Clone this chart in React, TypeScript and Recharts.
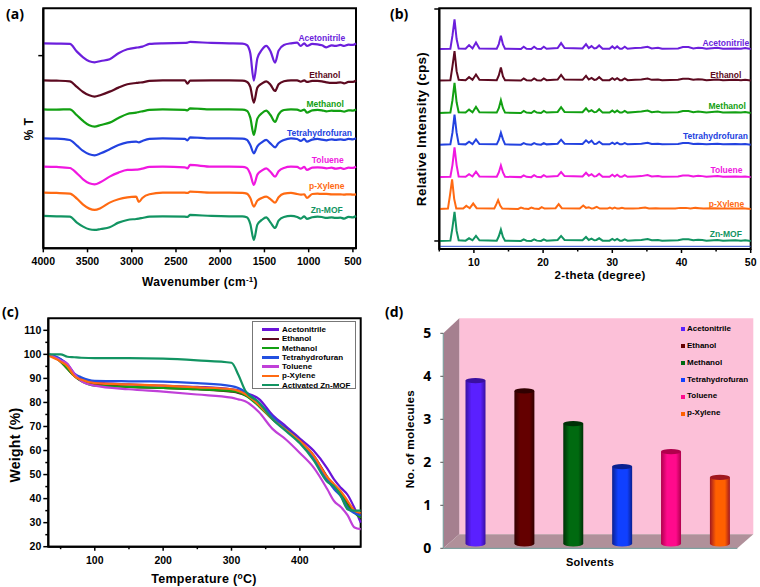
import * as React from "react";
import {
  Bar,
  BarChart,
  Legend,
  Line,
  LineChart,
  ReferenceArea,
  ReferenceDot,
  ReferenceLine,
  XAxis,
  YAxis,
} from "recharts";

const FONT = "'Liberation Sans', Arial, sans-serif";
const HEAD_FONT = "'Open Sans', sans-serif";

const solvents = ["Acetonitrile", "Ethanol", "Methanol", "Tetrahydrofuran", "Toluene", "p-Xylene", "Zn-MOF"];
const spectraColors = ["#6c1fdc", "#5c0a20", "#12a012", "#2342e0", "#f018e0", "#ff6a12", "#129462"];

// (a) FTIR, dips measured down from each trace's own baseline
const wavenumbers = [4000, 3850, 3700, 3620, 3550, 3480, 3420, 3350, 3250, 3150, 3050, 2950, 2920, 2880, 2800, 2650, 2400, 2370, 2340, 2100, 1900, 1750, 1700, 1660, 1620, 1580, 1530, 1480, 1430, 1380, 1340, 1280, 1200, 1130, 1090, 1050, 1020, 960, 900, 850, 800, 740, 700, 640, 600, 550, 500, 465];
const ftirBaselines = [615, 504, 417, 330, 245, 167, 97];
const ftirAcetonitrile = [0, 1, 2, 25, 42, 54, 57, 53, 48, 30, 18, 13, 12, 10, 2, 0, -1, -2, -4, -1, 0, 1, 5, 30, 112, 45, 20, 8, 25, 58, 22, 5, 0, -2, 8, 0, 8, 2, 3, 6, 12, 6, 8, 5, 8, 4, 5, 0];
const ftirEthanol = [0, 1, 3, 20, 35, 45, 49, 44, 34, 22, 12, 8, 7, 6, 2, 0, 0, 10, 1, 0, 0, 1, 4, 20, 67, 22, 10, 3, 14, 32, 12, 3, 0, 0, 4, 0, 5, 2, 2, 3, 6, 8, 8, 6, 9, 5, 5, 0];
const ftirMethanol = [0, 1, 0, 18, 35, 48, 52, 47, 40, 26, 14, 10, 8, 6, 2, 0, 2, 3, -3, 0, 0, 1, 4, 25, 77, 28, 12, 4, 18, 38, 15, 2, 0, 1, 5, 1, 10, 3, 2, 3, 6, 4, 5, 5, 7, 3, 4, 0];
const ftirThf = [0, 1, 5, 22, 38, 48, 51, 45, 33, 20, 12, 10, 12, 8, 2, 0, 2, 6, -3, 0, 0, 1, 4, 20, 45, 24, 12, 5, 16, 27, 14, 5, 0, 2, 8, 2, 10, 4, 2, 4, 6, 3, 5, 3, 5, 2, 3, 0];
const ftirToluene = [0, 1, 4, 20, 38, 50, 53, 46, 30, 18, 10, 9, 8, 6, 1, 0, 2, 5, -5, 0, 0, 1, 4, 22, 55, 24, 12, 5, 16, 30, 14, 4, 0, 1, 6, 1, 10, 3, 2, 3, 5, 3, 6, 4, 7, 3, 4, 0];
const ftirXylene = [0, 1, 3, 18, 36, 48, 52, 46, 30, 20, 14, 12, 28, 16, 5, 0, 0, 1, -3, 0, 0, 1, 3, 16, 42, 24, 16, 12, 20, 30, 14, 3, 1, 4, 6, 5, 16, 4, 3, 4, 4, 5, 5, 5, 6, 5, 6, 5];
const ftirZnMof = [0, 1, 2, 20, 32, 40, 42, 39, 34, 20, 12, 9, 8, 6, 2, 1, 2, 3, -3, 0, 1, 1, 4, 24, 72, 26, 12, 4, 20, 36, 14, 3, 0, 3, 8, 1, 9, 4, 2, 3, 6, 4, 6, 5, 8, 3, 4, 0];
const ftirSeries = [ftirAcetonitrile, ftirEthanol, ftirMethanol, ftirThf, ftirToluene, ftirXylene, ftirZnMof];
const ftirLabelX = [852, 818, 814, 878, 784, 796, 796];
const ftirLabelY = [632, 521, 434, 346, 264, 186, 114];
const ftirTicks = [4000, 3500, 3000, 2500, 2000, 1500, 1000, 500];

// (b) PXRD, heights above each trace's baseline
const theta = [5, 6.6, 6.9, 7.2, 7.5, 7.8, 8.8, 9.3, 9.8, 10.3, 10.8, 13.3, 13.6, 13.9, 14.2, 14.5, 16.8, 17.2, 17.6, 18.3, 18.7, 19.1, 19.7, 20.1, 20.5, 22.1, 22.6, 23.1, 25.7, 26.2, 26.6, 27, 27.4, 27.7, 28.1, 28.6, 29.6, 30, 30.35, 30.7, 31.1, 31.4, 31.8, 32.2, 33.3, 34.2, 35.1, 35.7, 36.6, 37.2, 39.5, 40.2, 41, 41.7, 42.4, 43, 43.6, 45.2, 46, 47.8, 48.6, 49.2, 50];
const thetaXylene = [5, 6.25, 6.55, 6.85, 7.15, 7.45, 8.45, 8.9, 9.4, 9.9, 10.4, 12.95, 13.25, 13.5, 13.8, 14.1, 16.4, 16.8, 17.2, 17.9, 18.3, 18.7, 19.4, 19.8, 20.2, 21.8, 22.25, 22.7, 25.3, 25.8, 26.2, 26.6, 27, 27.3, 27.75, 28.2, 29.3, 29.65, 30, 30.35, 30.7, 31, 31.4, 31.8, 33, 33.85, 34.75, 35.3, 36.3, 36.9, 39.1, 39.8, 40.65, 41.3, 42, 42.6, 43.2, 44.85, 45.6, 47.4, 48.2, 48.85, 50];
const xrdBaselines = [598, 504, 407, 312, 215, 120, 24];
const xrdAcetonitrile = [0, 1, 40, 89, 30, 2, 1, 12, 2, 20, 2, 1, 15, 40, 14, 1, 0, 7, 1, 0, 7, 1, 0, 7, 1, 3, 18, 3, 2, 15, 3, 9, 2, 3, 11, 1, 1, 8, 2, 8, 1, 1, 7, 1, 3, 4, 7, 2, 4, 1, 2, 6, 6, 2, 4, 3, 1, 4, 1, 2, 1, 3, 0];
const xrdEthanol = [0, 1, 42, 88, 28, 2, 1, 10, 2, 18, 2, 1, 15, 39, 12, 1, 0, 6, 1, 0, 6, 1, 0, 6, 1, 3, 17, 3, 2, 14, 3, 8, 2, 3, 10, 1, 1, 7, 2, 7, 1, 1, 6, 1, 2, 3, 6, 2, 3, 1, 2, 5, 5, 2, 4, 3, 1, 3, 1, 2, 1, 2, 0];
const xrdMethanol = [0, 1, 38, 90, 32, 2, 1, 10, 2, 18, 2, 1, 14, 38, 14, 1, 0, 6, 1, 0, 6, 1, 0, 6, 1, 3, 17, 3, 2, 14, 4, 8, 2, 3, 11, 1, 1, 7, 2, 7, 1, 1, 6, 1, 3, 4, 7, 2, 4, 1, 2, 6, 6, 2, 4, 3, 1, 4, 1, 2, 1, 3, 0];
const xrdThf = [0, 1, 36, 90, 36, 2, 1, 9, 2, 16, 2, 1, 14, 36, 16, 1, 0, 5, 1, 0, 5, 1, 0, 5, 1, 3, 15, 3, 2, 13, 6, 12, 2, 3, 9, 1, 1, 6, 2, 6, 1, 1, 5, 1, 2, 3, 6, 2, 3, 1, 2, 5, 5, 2, 3, 2, 1, 3, 1, 2, 1, 2, 0];
const xrdToluene = [0, 1, 36, 89, 36, 2, 1, 9, 2, 16, 2, 1, 14, 35, 14, 1, 0, 5, 1, 0, 6, 1, 0, 6, 1, 3, 15, 3, 2, 13, 4, 9, 2, 3, 10, 1, 1, 7, 2, 7, 1, 1, 6, 1, 2, 3, 6, 2, 3, 1, 2, 5, 5, 2, 4, 3, 1, 3, 1, 2, 1, 2, 0];
const xrdXylene = [0, 1, 42, 88, 30, 1, 1, 9, 2, 16, 2, 1, 14, 26, 10, 1, 0, 4, 1, 0, 4, 1, 0, 5, 1, 2, 14, 2, 1, 10, 3, 5, 1, 2, 6, 1, 1, 4, 1, 4, 1, 1, 3, 1, 1, 2, 4, 1, 2, 1, 1, 3, 3, 1, 3, 2, 1, 2, 1, 1, 1, 2, 0];
const xrdZnMof = [0, 1, 40, 87, 30, 2, 1, 8, 2, 15, 2, 1, 14, 34, 12, 1, 0, 5, 1, 0, 5, 1, 0, 5, 1, 3, 15, 3, 2, 12, 3, 7, 2, 3, 8, 1, 1, 6, 2, 6, 1, 1, 5, 1, 2, 3, 6, 2, 3, 1, 2, 5, 5, 2, 4, 3, 1, 3, 1, 2, 1, 2, 0];
const xrdSeries = [xrdAcetonitrile, xrdEthanol, xrdMethanol, xrdThf, xrdToluene, xrdXylene, xrdZnMof];
const xrdLabelX = [46.4, 46.4, 46.6, 44.9, 46.5, 46.5, 46.4];
const xrdLabelY = [617, 521, 429, 338, 236, 136, 45];
const xrdTicks = [5, 10, 15, 20, 25, 30, 35, 40, 45, 50];

// (c) TGA
const temperatures = [32, 50, 60, 70, 80, 100, 150, 200, 250, 300, 310, 320, 340, 360, 380, 400, 420, 440, 450, 460, 470, 480, 489];
const tgaAcetonitrile = [100, 98, 96, 92, 90, 88.5, 87.5, 87, 86.5, 85.5, 85, 84, 81.5, 74.8, 70, 65, 60, 52.6, 48, 44.5, 41.5, 36, 30];
const tgaEthanol = [100, 97, 94, 91, 89, 87.5, 86.5, 86, 85.5, 84.5, 84, 83, 79, 73, 69, 64, 58, 49, 45, 42, 38, 35, 33];
const tgaMethanol = [100, 97, 94, 91, 89, 87, 86.5, 86, 85.5, 84.7, 84.3, 83, 78.5, 73, 68.5, 63.5, 57, 48, 44.5, 42, 37, 34, 32];
const tgaThf = [100, 98, 95.5, 92, 90.5, 89, 88.8, 88.7, 88, 86.8, 86, 84.5, 80, 74, 69, 64, 57, 48, 44, 41, 36, 34, 33];
const tgaToluene = [100, 97.5, 96, 92, 89, 87, 85.5, 84.5, 83.3, 82, 81.3, 80.5, 76, 69, 64.5, 59, 53, 44, 39, 36.5, 33, 28, 27.3];
const tgaXylene = [99.5, 97, 95, 91, 89.5, 88, 87.5, 87, 86.3, 85.5, 84.8, 83.5, 79, 73, 68.5, 64, 58, 49, 46, 43, 39, 35, 34];
const tgaZnMof = [100, 100, 99, 98.8, 98.6, 98.4, 98.4, 98.2, 97.5, 96.5, 91.5, 85, 80, 73, 68, 63, 56, 47, 45, 41, 35.5, 35, 35];
const tgaSeries = [tgaAcetonitrile, tgaEthanol, tgaMethanol, tgaThf, tgaToluene, tgaXylene, tgaZnMof];
const tgaNames = ["Acetonitrile", "Ethanol", "Methanol", "Tetrahydrofuran", "Toluene", "p-Xylene", "Activated Zn-MOF"];
const tgaColors = ["#6a14d8", "#5c0a20", "#12a012", "#2250e0", "#c040d8", "#ff6a12", "#129462"];
const tgaXTicks = [50, 100, 150, 200, 250, 300, 350, 400, 450];
const tgaYTicks = [20, 25, 30, 35, 40, 45, 50, 55, 60, 65, 70, 75, 80, 85, 90, 95, 100, 105, 110];

// (d) solvent molecules
const barSolvents = ["Acetonitrile", "Ethanol", "Methanol", "Tetrahydrofuran", "Toluene", "p-Xylene"];
const molecules = [3.9, 3.66, 2.9, 1.9, 2.25, 1.65];
const barColors = ["#5a20ff", "#640000", "#006a10", "#1040ff", "#ff0a8c", "#ff6000"];
const barEdges = ["#3a10a0", "#300000", "#003006", "#0a2090", "#b0004c", "#a01820"];
const moleculeTicks = [0, 1, 2, 3, 4, 5];

const ftirRows = wavenumbers.map((wavenumber, i) => {
  const row: Record<string, number> = { wavenumber };
  solvents.forEach((s, k) => {
    row[s] = ftirBaselines[k] - ftirSeries[k][i];
  });
  return row;
});

const xrdRows = (k: number) =>
  (k === 5 ? thetaXylene : theta).map((angle, i) => ({
    angle,
    value: xrdBaselines[k] + xrdSeries[k][i],
  }));

const tgaRows = temperatures.map((temperature, i) => {
  const row: Record<string, number> = { temperature };
  tgaNames.forEach((s, k) => {
    row[s] = tgaSeries[k][i];
  });
  return row;
});

const barRows = barSolvents.map((solvent, i) => ({ solvent, molecules: molecules[i] }));

const XTick = (isMajor: (v: number) => boolean, fontSize = 10.5) => (p: any) => {
  const major = isMajor(p.payload.value);
  return (
    <g>
      <line x1={p.x} x2={p.x} y1={p.y} y2={p.y + (major ? 4 : 2.5)} stroke="#000" strokeWidth={1.5} />
      {major && (
        <text x={p.x} y={p.y + 17} textAnchor="middle" fontFamily={FONT} fontWeight="bold" fontSize={fontSize}>
          {p.payload.value}
        </text>
      )}
    </g>
  );
};

const YTick = (isMajor: (v: number) => boolean, showText: boolean) => (p: any) => {
  const major = isMajor(p.payload.value);
  return (
    <g>
      <line x1={p.x} x2={p.x - (major ? 5 : 3)} y1={p.y} y2={p.y} stroke="#000" strokeWidth={1.5} />
      {major && showText && (
        <text x={p.x - 7} y={p.y + 3.5} textAnchor="end" fontFamily={FONT} fontWeight="bold" fontSize={10.5}>
          {p.payload.value}
        </text>
      )}
    </g>
  );
};

const Title = ({ x, y, children, rotate, size = 12 }: any) => (
  <text
    x={x}
    y={y}
    textAnchor="middle"
    fontFamily={FONT}
    fontWeight="bold"
    fontSize={size}
    letterSpacing={0.3}
    transform={rotate ? `rotate(-90 ${x} ${y})` : undefined}
  >
    {children}
  </text>
);

const PanelTag = ({ x, y, children }: any) => (
  <text x={x} y={y} fontFamily={HEAD_FONT} fontWeight="bold" fontSize={14}>
    {children}
  </text>
);

const TraceLabel = (x: number, y: number, name: string, color: string) => (
  <ReferenceDot
    key={name}
    x={x}
    y={y}
    r={0}
    fill="none"
    stroke="none"
    ifOverflow="visible"
    label={{ value: name, fill: color, fontSize: 8.5, fontWeight: "bold", fontFamily: FONT }}
  />
);

const TgaLegend = () => (
  <div
    style={{
      width: 104,
      height: 68,
      boxSizing: "border-box",
      border: "1px solid #777",
      background: "#fff",
      padding: "3px 0 0 9px",
      fontFamily: FONT,
      fontSize: 8,
      fontWeight: "bold",
      lineHeight: "9.25px",
    }}
  >
    {tgaNames.map((name, i) => (
      <div key={name} style={{ display: "flex", alignItems: "center", whiteSpace: "nowrap" }}>
        <span style={{ display: "inline-block", width: 17, height: 2.4, background: tgaColors[i], marginRight: 3 }} />
        {name}
      </div>
    ))}
  </div>
);

const BarLegend = () => (
  <div style={{ fontFamily: FONT, fontSize: 8, fontWeight: "bold", lineHeight: "16.85px" }}>
    {barSolvents.map((name, i) => (
      <div key={name} style={{ display: "flex", alignItems: "center", whiteSpace: "nowrap" }}>
        <span style={{ display: "inline-block", width: 4, height: 4, background: barColors[i], marginRight: 2 }} />
        {name}
      </div>
    ))}
  </div>
);

const Cylinder = (p: any) => {
  const { x, y, width, height, index } = p;
  const rx = width / 2;
  const ry = 2.6;
  const bottom = y + height - 4.5;
  return (
    <g>
      <path
        d={`M${x} ${y} L${x} ${bottom} A${rx} ${ry} 0 0 0 ${x + width} ${bottom} L${x + width} ${y} Z`}
        fill={`url(#cyl${index})`}
      />
      <ellipse cx={x + rx} cy={y} rx={rx} ry={ry} fill={barEdges[index]} />
    </g>
  );
};

const panel = (left: number, top: number): React.CSSProperties => ({ position: "absolute", left, top });

export default function App() {
  return (
    <div style={{ position: "absolute", left: 0, top: 0, width: 760, height: 587, background: "#fff", overflow: "hidden" }}>
      <div style={panel(0, 0)}>
        <LineChart width={380} height={290} data={ftirRows} margin={{ top: 8.3, right: 24, bottom: 0, left: 0 }}>
          <XAxis
            dataKey="wavenumber"
            type="number"
            reversed
            domain={[4000, 465]}
            ticks={ftirTicks}
            interval={0}
            tick={XTick(() => true)}
            tickLine={false}
            tickSize={0}
            tickMargin={0}
            height={41.7}
            axisLine={{ stroke: "#000", strokeWidth: 2 }}
          />
          <YAxis
            type="number"
            domain={[0, 720]}
            ticks={[578]}
            tick={YTick(() => true, false)}
            tickLine={false}
            tickSize={0}
            tickMargin={0}
            width={43.3}
            axisLine={{ stroke: "#000", strokeWidth: 2 }}
          />
          <ReferenceArea x1={4000} x2={465} y1={0} y2={720} fill="none" stroke="#000" strokeWidth={2} ifOverflow="visible" />
          {solvents.map((s, k) => (
            <Line key={s} dataKey={s} type="monotone" stroke={spectraColors[k]} strokeWidth={2.2} dot={false} isAnimationActive={false} />
          ))}
          {solvents.map((s, k) => TraceLabel(ftirLabelX[k], ftirLabelY[k], s, spectraColors[k]))}
          <PanelTag x={6} y={19}>(a)</PanelTag>
          <Title x={200} y={286}>
            Wavenumber (cm<tspan dy={-4} fontSize={8}>-1</tspan>
            <tspan dy={4}>)</tspan>
          </Title>
          <Title x={33} y={129} rotate>% T</Title>
        </LineChart>
      </div>

      <div style={panel(380, 0)}>
        <LineChart width={380} height={290} margin={{ top: 8.3, right: 9.3, bottom: 0, left: 0 }}>
          <XAxis
            dataKey="angle"
            type="number"
            domain={[5, 50]}
            ticks={xrdTicks}
            interval={0}
            allowDuplicatedCategory={false}
            tick={XTick((v) => v % 10 === 0)}
            tickLine={false}
            tickSize={0}
            tickMargin={0}
            height={41}
            axisLine={{ stroke: "#000", strokeWidth: 2 }}
          />
          <YAxis
            type="number"
            domain={[0, 720]}
            ticks={[24, 720]}
            tick={YTick(() => true, false)}
            tickLine={false}
            tickSize={0}
            tickMargin={0}
            width={59.3}
            axisLine={{ stroke: "#000", strokeWidth: 2 }}
          />
          <ReferenceArea x1={5} x2={50} y1={0} y2={720} fill="none" stroke="#000" strokeWidth={2} ifOverflow="visible" />
          <ReferenceLine y={8} stroke="#3050d0" strokeWidth={1} />
          {solvents.map((s, k) => (
            <Line key={s} data={xrdRows(k)} dataKey="value" name={s} type="linear" stroke={spectraColors[k]} strokeWidth={2} dot={false} isAnimationActive={false} />
          ))}
          {solvents.map((s, k) => TraceLabel(xrdLabelX[k], xrdLabelY[k], s, spectraColors[k]))}
          <PanelTag x={10} y={19}>(b)</PanelTag>
          <Title x={220} y={279} size={11.5}>2-theta (degree)</Title>
          <Title x={46} y={129} rotate size={13.5}>Relative Intensity (cps)</Title>
        </LineChart>
      </div>

      <div style={panel(0, 295)}>
        <LineChart width={380} height={292} data={tgaRows} margin={{ top: 23.3, right: 19.3, bottom: 0, left: 0 }}>
          <XAxis
            dataKey="temperature"
            type="number"
            domain={[32, 489]}
            ticks={tgaXTicks}
            interval={0}
            tick={XTick((v) => v % 100 === 0)}
            tickLine={false}
            tickSize={0}
            tickMargin={0}
            height={40.3}
            axisLine={{ stroke: "#000", strokeWidth: 2 }}
          />
          <YAxis
            type="number"
            domain={[20, 115]}
            ticks={tgaYTicks}
            interval={0}
            tick={YTick((v) => v % 10 === 0, true)}
            tickLine={false}
            tickSize={0}
            tickMargin={0}
            width={48.3}
            axisLine={{ stroke: "#000", strokeWidth: 2 }}
          />
          <ReferenceArea x1={32} x2={489} y1={20} y2={115} fill="none" stroke="#000" strokeWidth={2} ifOverflow="visible" />
          {tgaNames.map((s, k) => (
            <Line key={s} dataKey={s} type="monotone" stroke={tgaColors[k]} strokeWidth={2.2} dot={false} isAnimationActive={false} />
          ))}
          <Legend
            layout="horizontal"
            verticalAlign="middle"
            align="center"
            content={TgaLegend}
            wrapperStyle={{ left: 252, top: 26, width: 104, height: 68 }}
          />
          <PanelTag x={2} y={22}>(c)</PanelTag>
          <Title x={204} y={288} size={12.5}>
            Temperature (<tspan dy={-4} fontSize={8.5}>o</tspan>
            <tspan dy={4}>C)</tspan>
          </Title>
          <Title x={20} y={150} rotate size={14}>Weight (%)</Title>
        </LineChart>
      </div>

      <div style={panel(380, 295)}>
        <svg width={380} height={292} style={{ position: "absolute", left: 0, top: 0 }}>
          <polygon points="79.3,23.3 373.3,23.3 373.3,239.3 79.3,239.3" fill="#fcc0d8" />
          <polygon points="63.3,38.3 79.3,23.3 79.3,239.3 63.3,253.3" fill="#a5808f" />
          <polygon points="63.3,253.3 79.3,239.3 373.3,239.3 357.3,253.3" fill="#b0909a" />
          <line x1={63.3} y1={38.3} x2={63.3} y2={253.3} stroke="#7fa0a0" strokeWidth={1.2} />
        </svg>
        <BarChart width={380} height={292} data={barRows} margin={{ top: 38.3, right: 22.7, bottom: 0, left: 0 }} style={{ position: "absolute" }}>
          <defs>
            {barColors.map((c, i) => (
              <linearGradient key={c} id={`cyl${i}`} x1="0" y1="0" x2="1" y2="0">
                <stop offset="0" stopColor={barEdges[i]} />
                <stop offset="0.3" stopColor={c} />
                <stop offset="0.75" stopColor={c} />
                <stop offset="1" stopColor={barEdges[i]} />
              </linearGradient>
            ))}
          </defs>
          <XAxis
            dataKey="solvent"
            tick={false}
            tickLine={false}
            height={38.7}
            padding={{ left: 8.2, right: -7.5 }}
            axisLine={{ stroke: "#7fa0a0", strokeWidth: 1.2 }}
          />
          <YAxis
            type="number"
            domain={[0, 5]}
            ticks={moleculeTicks}
            axisLine={false}
            tickLine={{ stroke: "#555" }}
            tickSize={3}
            tickMargin={9}
            width={63.3}
            tick={{ fill: "#000", fontFamily: HEAD_FONT, fontWeight: "bold", fontSize: 14 }}
          />
          <Bar dataKey="molecules" barSize={20} shape={Cylinder} isAnimationActive={false} />
          <Legend
            layout="horizontal"
            verticalAlign="middle"
            align="center"
            content={BarLegend}
            wrapperStyle={{ left: 301, top: 26, width: 80 }}
          />
          <PanelTag x={5} y={22}>(d)</PanelTag>
          <Title x={210} y={271} size={11}>Solvents</Title>
          <Title x={34} y={144} rotate size={11.7}>No. of molecules</Title>
        </BarChart>
      </div>
    </div>
  );
}
